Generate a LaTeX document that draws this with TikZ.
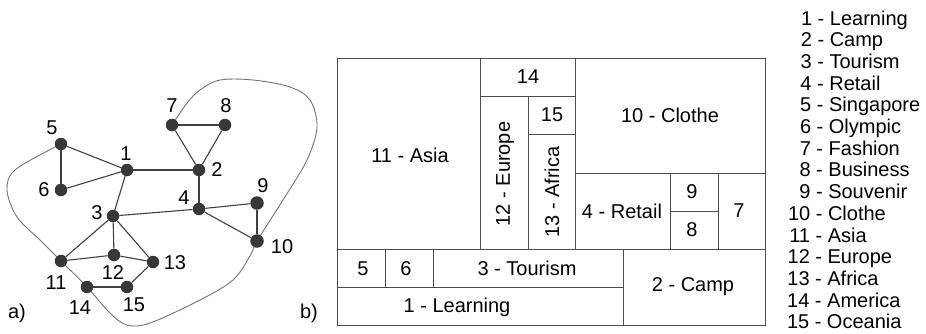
\documentclass[tikz,border=0pt]{standalone}
\usepackage{fontspec}
\setmainfont{Liberation Sans}
\pgfdeclarelayer{bg}
\pgfsetlayers{bg,main}
\begin{document}
\begin{tikzpicture}[x=1pt,y=-1pt,
  vtx/.style={circle,fill=black!78,inner sep=0pt,minimum size=12.5pt},
  vlab/.style={inner sep=0pt,font=\fontsize{20}{24}\selectfont},
  edge/.style={draw=black!75,line width=1.1pt},
  hull/.style={draw=black!55,line width=0.9pt},
  cell/.style={draw=black!70,line width=1pt},
  ctext/.style={inner sep=0pt,font=\fontsize{20}{24}\selectfont},
  legtext/.style={inner sep=0pt,anchor=base west,font=\fontsize{20}{24}\selectfont}]
\useasboundingbox (0,0) rectangle (926,333);

% ---- graph a)
\node[vtx] (n1) at (127,170) {};
\node[vtx] (n2) at (199,170) {};
\node[vtx] (n3) at (113,216) {};
\node[vtx] (n4) at (199,209) {};
\node[vtx] (n5) at (61,144) {};
\node[vtx] (n6) at (61,190) {};
\node[vtx] (n7) at (172,125) {};
\node[vtx] (n8) at (225,125) {};
\node[vtx,minimum size=13.5pt] (n9) at (257,203) {};
\node[vtx,minimum size=13.5pt] (n10) at (257,241) {};
\node[vtx] (n11) at (61,261) {};
\node[vtx] (n12) at (114,255) {};
\node[vtx] (n13) at (153,262) {};
\node[vtx] (n14) at (87,287) {};
\node[vtx] (n15) at (127,287) {};

\begin{pgfonlayer}{bg}
\draw[hull] plot[smooth,tension=0.55] coordinates {(n5.center) (55,147) (15,170) (7,190) (17,217) (40,240) (n11.center) (n14.center) (110,313) (127,325) (150,323) (200,300) (233,280) (250,256) (n10.center) (283,200) (307,160) (317,127) (310,100) (290,87) (253,80) (220,80) (200,90) (187,103) (n7.center)};
\draw[edge] (n5) -- (n6);
\draw[edge] (n5) -- (n1);
\draw[edge] (n6) -- (n1);
\draw[edge] (n1) -- (n2);
\draw[edge] (n1) -- (n3);
\draw[edge] (n7) -- (n8);
\draw[edge] (n7) -- (n2);
\draw[edge] (n8) -- (n2);
\draw[edge] (n2) -- (n4);
\draw[edge] (n3) -- (n4);
\draw[edge] (n4) -- (n9);
\draw[edge] (n4) -- (n10);
\draw[edge] (n9) -- (n10);
\draw[edge] (n3) -- (n11);
\draw[edge] (n3) -- (n12);
\draw[edge] (n3) -- (n13);
\draw[edge] (n11) -- (n12);
\draw[edge] (n12) -- (n13);
\draw[edge] (n14) -- (n15);
\draw[edge] (n15) -- (n13);
\end{pgfonlayer}

\node[vlab] (l1) at (126,154) {1};
\node[vlab] (l2) at (217,170) {2};
\node[vlab] (l3) at (97,213) {3};
\node[vlab] (l4) at (184,198) {4};
\node[vlab] (l5) at (52,128) {5};
\node[vlab] (l6) at (44,190) {6};
\node[vlab] (l7) at (172,106) {7};
\node[vlab] (l8) at (226,106) {8};
\node[vlab] (l9) at (263,186) {9};
\node[vlab] (l10) at (282,247) {10};
\node[vlab] (l11) at (56,283) {11};
\node[vlab] (l12) at (113,273) {12};
\node[vlab] (l13) at (175,263) {13};
\node[vlab] (l14) at (80,308) {14};
\node[vlab] (l15) at (134,305) {15};
\node[vlab] (la) at (17,313) {a)};
\node[vlab] (lb) at (309,313) {b)};

% ---- treemap b)
\draw[cell] (337,58) rectangle (765,325);
\draw[cell] (480,58) -- (480,249);
\draw[cell] (337,249) -- (765,249);
\draw[cell] (480,96) -- (575,96);
\draw[cell] (575,58) -- (575,249);
\draw[cell] (528,96) -- (528,249);
\draw[cell] (528,134) -- (575,134);
\draw[cell] (575,173) -- (765,173);
\draw[cell] (670,173) -- (670,249);
\draw[cell] (718,173) -- (718,249);
\draw[cell] (670,211) -- (718,211);
\draw[cell] (385,249) -- (385,287);
\draw[cell] (433,249) -- (433,287);
\draw[cell] (337,287) -- (623,287);
\draw[cell] (623,249) -- (623,325);

\node[ctext] (t11) at (410,155) {11 - Asia};
\node[ctext] (t14) at (528,77) {14};
\node[ctext,rotate=90] (t12) at (505,174) {12 - Europe};
\node[ctext] (t15) at (552,115) {15};
\node[ctext,rotate=90] (t13) at (552,192) {13 - Africa};
\node[ctext] (t10) at (670,115) {10 - Clothe};
\node[ctext] (t4) at (622,211) {4 - Retail};
\node[ctext] (t9) at (692,192) {9};
\node[ctext] (t8) at (692,230) {8};
\node[ctext] (t7) at (739,211) {7};
\node[ctext] (t5) at (363,269) {5};
\node[ctext] (t6) at (406,269) {6};
\node[ctext] (t3) at (527,268) {3 - Tourism};
\node[ctext] (t1) at (457,307) {1 - Learning};
\node[ctext] (t2) at (693,287) {2 - Camp};

% ---- legend
\foreach \n/\t [count=\i] in {1/Learning,2/Camp,3/Tourism,4/Retail,5/Singapore,6/Olympic,7/Fashion,8/Business,9/Souvenir,10/Clothe,11/Asia,12/Europe,13/Africa,14/America,15/Oceania}{
  \node[legtext] (leg\i) at ({812-3*(\i-1)/14-22.2},{25+21.7*(\i-1)}) {\hbox to 22.2pt{\hfill\n} - \t};
}
\end{tikzpicture}
\end{document}
